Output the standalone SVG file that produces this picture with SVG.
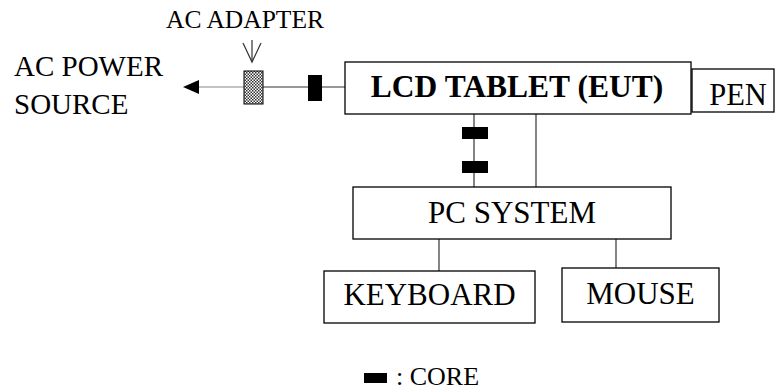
<svg xmlns="http://www.w3.org/2000/svg" width="775" height="392" viewBox="0 0 775 392">
<style>
.box{fill:#fff;stroke:#000;stroke-width:1.3}
.ln{stroke:#333;stroke-width:1.2;fill:none}
.core{fill:#000}
.t{font-family:"Liberation Serif","Times New Roman",serif;fill:#000}
</style>
<defs>
<pattern id="chk" width="3" height="3" patternUnits="userSpaceOnUse">
<rect width="3" height="3" fill="#fff"/>
<rect width="1.5" height="1.5" fill="#333"/>
<rect x="1.5" y="1.5" width="1.5" height="1.5" fill="#333"/>
</pattern>
</defs>
<rect width="775" height="392" fill="#fff"/>
<g id="connectors">
<line class="ln" x1="196" y1="87" x2="244" y2="87" style="stroke:#888"/>
<polygon points="183,87 199,80 199,94" fill="#000"/>
<line class="ln" x1="263" y1="87" x2="345" y2="87"/>
<line class="ln" x1="252" y1="40" x2="252" y2="62"/>
<polyline class="ln" points="243,43 252,62 261,43"/>
<line class="ln" x1="474" y1="114" x2="474" y2="187"/>
<line class="ln" x1="536" y1="114" x2="536" y2="187"/>
<line class="ln" x1="439" y1="239" x2="439" y2="271"/>
<line class="ln" x1="616" y1="239" x2="616" y2="268"/>
<rect class="core" x="308" y="75" width="14" height="26"/>
<rect class="core" x="462" y="127" width="26" height="12"/>
<rect class="core" x="462" y="161" width="26" height="12"/>
</g>
<g id="ac-power-source">
<text class="t" x="14" y="76" font-size="29">AC POWER</text>
<text class="t" x="14" y="114" font-size="29">SOURCE</text>
</g>
<g id="ac-adapter">
<rect x="244" y="71" width="19" height="33" fill="url(#chk)" stroke="#000" stroke-width="1"/>
<text class="t" x="245" y="28" font-size="25.5" text-anchor="middle">AC ADAPTER</text>
</g>
<g id="lcd-tablet">
<rect class="box" x="345" y="62" width="346" height="52"/>
<text class="t" x="517" y="97" font-size="31.5" font-weight="bold" text-anchor="middle">LCD TABLET (EUT)</text>
</g>
<g id="pen">
<rect class="box" x="692" y="69" width="82" height="43"/>
<text class="t" x="738" y="105" font-size="30.5" text-anchor="middle">PEN</text>
</g>
<g id="pc-system">
<rect class="box" x="353" y="187" width="318" height="52"/>
<text class="t" x="512" y="223" font-size="31" text-anchor="middle">PC SYSTEM</text>
</g>
<g id="keyboard">
<rect class="box" x="324" y="271" width="211" height="52"/>
<text class="t" x="429.5" y="305" font-size="31" text-anchor="middle">KEYBOARD</text>
</g>
<g id="mouse">
<rect class="box" x="562" y="268" width="157" height="54"/>
<text class="t" x="640.5" y="304" font-size="31" text-anchor="middle">MOUSE</text>
</g>
<g id="legend">
<rect class="core" x="364" y="373" width="23" height="10"/>
<text class="t" x="396" y="385" font-size="26">: CORE</text>
</g>
</svg>
